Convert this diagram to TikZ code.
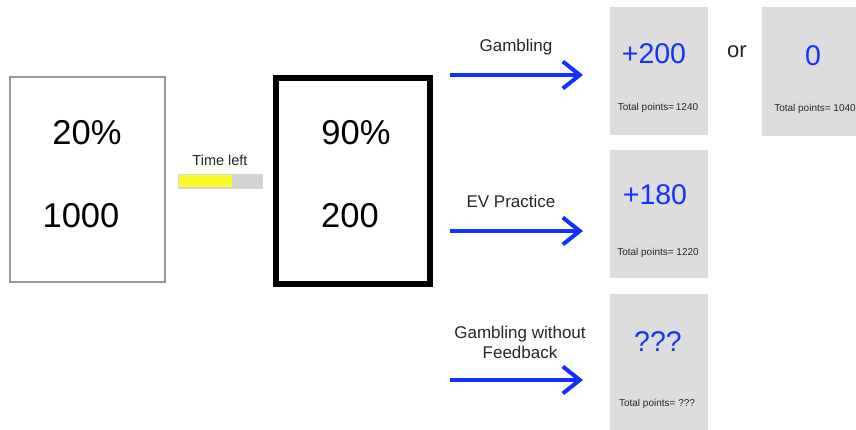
\documentclass[tikz,border=0pt]{standalone}
\usepackage{fontspec}
\setmainfont{Liberation Sans}
\usetikzlibrary{arrows.meta}
\definecolor{boxgray}{RGB}{221,221,221}
\definecolor{numblue}{RGB}{20,50,255}
\definecolor{edgegray}{RGB}{150,150,150}
\definecolor{baryellow}{RGB}{250,250,40}
\definecolor{bargray}{RGB}{210,210,210}
\begin{document}
\begin{tikzpicture}[x=1pt,y=-1pt,
  bignum/.style={font=\fontsize{34.5}{35}\selectfont, anchor=center},
  outnum/.style={font=\fontsize{28.5}{29}\selectfont, text=numblue, anchor=center},
  total/.style={font=\fontsize{10}{10}\selectfont, text=black!85, anchor=center},
  lbl/.style={font=\fontsize{17}{20}\selectfont, text=black!85, align=center, anchor=center},
  outbox/.style={fill=boxgray, draw=none, minimum width=98pt, inner sep=0pt},
  bluearrow/.style={draw=numblue, line width=4pt, -{Straight Barb[length=17pt,width=27pt,line width=4pt]}}
]
\useasboundingbox (0,0) rectangle (856,430);
% left box
\node[draw=edgegray, line width=2pt, minimum width=155pt, minimum height=205pt, inner sep=0pt] (b1) at (87.5,179.5) {};
\node[bignum] (b1p) at (87,133) {20\%};
\node[bignum] (b1n) at (81,216) {1000};
% time bar
\node[font=\fontsize{14.5}{15}\selectfont, text=black!85] (tl) at (220,160) {Time left};
\node[draw=black!15, fill=bargray, minimum width=84pt, minimum height=14pt, inner sep=0pt, line width=0.8pt] (bar) at (220,181) {};
\node[fill=baryellow, minimum width=53pt, minimum height=12pt, inner sep=0pt, anchor=west] (barfill) at ([xshift=1pt]bar.west) {};
% second box
\node[draw=black, line width=6pt, minimum width=154pt, minimum height=206pt, inner sep=0pt] (b2) at (353,181) {};
\node[bignum] (b2p) at (356,133) {90\%};
\node[bignum] (b2n) at (350,216) {200};
% outcome boxes
\node[outbox, minimum height=128pt] (o1) at (659,71) {};
\node[outbox, minimum height=129pt] (o2) at (811,71.5) {};
\node[outbox, minimum height=128pt] (o3) at (659,214) {};
\node[outbox, minimum height=140pt] (o4) at (659,364) {};
\node[outnum] (o1n) at (654,54) {+200};
\node[total] (o1t) at (658,108) {Total points=\,1240};
\node[font=\fontsize{22}{22}\selectfont, text=black!85] (or) at (737,52) {or};
\node[outnum] (o2n) at (813,56) {0};
\node[total] (o2t) at (815,109) {Total points= 1040};
\node[outnum] (o3n) at (655,195) {+180};
\node[total] (o3t) at (658,253) {Total points= 1220};
\node[outnum] (o4n) at (658,342) {???};
\node[total] (o4t) at (657,404) {Total points= ???};
% arrows and labels
\node[lbl] (l1) at (516,47) {Gambling};
\node[lbl] (l2) at (511,201) {EV Practice};
\node[lbl] (l3) at (520,342) {Gambling without\\Feedback};
\coordinate (a1s) at (450,75);  \coordinate (a1e) at (583,75);
\coordinate (a2s) at (450,231); \coordinate (a2e) at (583,231);
\coordinate (a3s) at (450,380); \coordinate (a3e) at (583,380);
\draw[bluearrow] (a1s) -- (a1e);
\draw[bluearrow] (a2s) -- (a2e);
\draw[bluearrow] (a3s) -- (a3e);
\end{tikzpicture}
\end{document}
